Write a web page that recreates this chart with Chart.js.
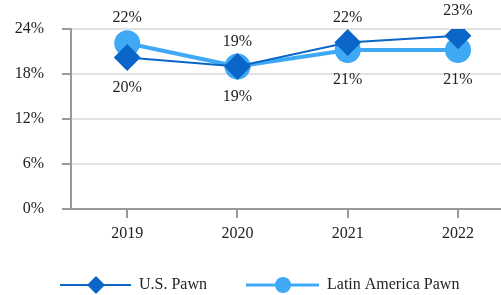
<!DOCTYPE html>
<html>
<head>
<meta charset="utf-8">
<script src="https://cdn.jsdelivr.net/npm/chart.js@4"></script>
<style>
  html,body{margin:0;padding:0;background:#fff}
  #wrap{width:501px;height:295px;position:relative}
</style>
</head>
<body>
<div id="wrap"><canvas id="c"></canvas></div>
<script>
const years = [2019, 2020, 2021, 2022];
const usPawn = [20.2, 19.0, 22.2, 23.1];
const latamPawn = [22.1, 19.0, 21.2, 21.2];
const yTicks = [0, 6, 12, 18, 24];

const US_COLOR = '#0a66c8';
const LA_COLOR = '#3fa9f5';
const FONT = '"Liberation Serif", "DejaVu Serif", serif';

// labels above (-1) or below (+1) each point
const usPlace = [1, 1, -1, -1];
const laPlace = [-1, -1, 1, 1];

const pointLabels = {
  id: 'pointLabels',
  afterDatasetsDraw(chart){
    const ctx = chart.ctx;
    ctx.save();
    ctx.font = '16px ' + FONT;
    ctx.fillStyle = '#222';
    ctx.textAlign = 'center';
    ctx.textBaseline = 'middle';
    chart.data.datasets.forEach((ds, i)=>{
      const meta = chart.getDatasetMeta(i);
      meta.data.forEach((pt, j)=>{
        const dir = ds.place[j];
        const off = dir < 0 ? -25 : 30;
        ctx.fillText(Math.round(ds.data[j].y) + '%', pt.x, pt.y + off);
      });
    });
    ctx.restore();
  }
};

const legendPlugin = {
  id: 'customLegend',
  afterDraw(chart){
    const ctx = chart.ctx;
    const y = 285;
    ctx.save();
    // U.S. Pawn
    ctx.strokeStyle = US_COLOR; ctx.lineWidth = 2;
    ctx.beginPath(); ctx.moveTo(60, y); ctx.lineTo(131, y); ctx.stroke();
    ctx.fillStyle = US_COLOR;
    ctx.beginPath(); ctx.moveTo(96, y-9); ctx.lineTo(105, y); ctx.lineTo(96, y+9); ctx.lineTo(87, y); ctx.closePath(); ctx.fill();
    // Latin America Pawn
    ctx.strokeStyle = LA_COLOR; ctx.lineWidth = 3;
    ctx.beginPath(); ctx.moveTo(246, y); ctx.lineTo(319, y); ctx.stroke();
    ctx.fillStyle = LA_COLOR;
    ctx.beginPath(); ctx.arc(283, y, 8, 0, Math.PI*2); ctx.fill();
    ctx.font = '16px ' + FONT;
    ctx.fillStyle = '#222';
    ctx.textBaseline = 'middle';
    ctx.fillText('U.S. Pawn', 139, y);
    ctx.fillText('Latin America Pawn', 327, y);
    ctx.restore();
  }
};

new Chart(document.getElementById('c'), {
  type: 'line',
  data: {
    datasets: [
      {
        label: 'U.S. Pawn',
        data: years.map((x, i)=>({x, y: usPawn[i]})),
        place: usPlace,
        borderColor: US_COLOR, backgroundColor: US_COLOR,
        borderWidth: 2, pointStyle: 'rectRot', pointRadius: 12, pointHoverRadius: 12,
        tension: 0
      },
      {
        label: 'Latin America Pawn',
        data: years.map((x, i)=>({x, y: latamPawn[i]})),
        place: laPlace,
        borderColor: LA_COLOR, backgroundColor: LA_COLOR,
        borderWidth: 4, pointStyle: 'circle', pointRadius: 11, pointHoverRadius: 11,
        tension: 0
      }
    ]
  },
  options: {
    responsive: true,
    maintainAspectRatio: false,
    animation: false,
    layout: { autoPadding: false, padding: { top: 29, right: 0, left: 0, bottom: 0 } },
    plugins: { legend: { display: false }, tooltip: { enabled: false } },
    scales: {
      x: {
        type: 'linear',
        min: 2018.49, max: 2022.39,
        afterBuildTicks: s => { s.ticks = years.map(v=>({value: v})); },
        afterFit: s => { s.height = 86; s.paddingLeft = 0; s.paddingRight = 0; },
        grid: { drawOnChartArea: false, drawTicks: true, tickLength: 9, tickColor: '#9a9a9a', lineWidth: 2 },
        border: { color: '#9a9a9a', width: 2 },
        ticks: { color: '#222', font: { family: FONT, size: 16 }, padding: 6, callback: v => String(v) }
      },
      y: {
        min: 0, max: 24,
        afterBuildTicks: s => { s.ticks = yTicks.map(v=>({value: v})); },
        afterFit: s => { s.width = 71; s.paddingTop = 0; s.paddingBottom = 0; },
        grid: { color: '#e2e2e2', lineWidth: 2, tickLength: 9, tickColor: '#9a9a9a' },
        border: { color: '#9a9a9a', width: 2 },
        ticks: { color: '#222', font: { family: FONT, size: 16 }, padding: 18, callback: v => v + '%' }
      }
    }
  },
  plugins: [pointLabels, legendPlugin]
});
</script>
</body>
</html>
